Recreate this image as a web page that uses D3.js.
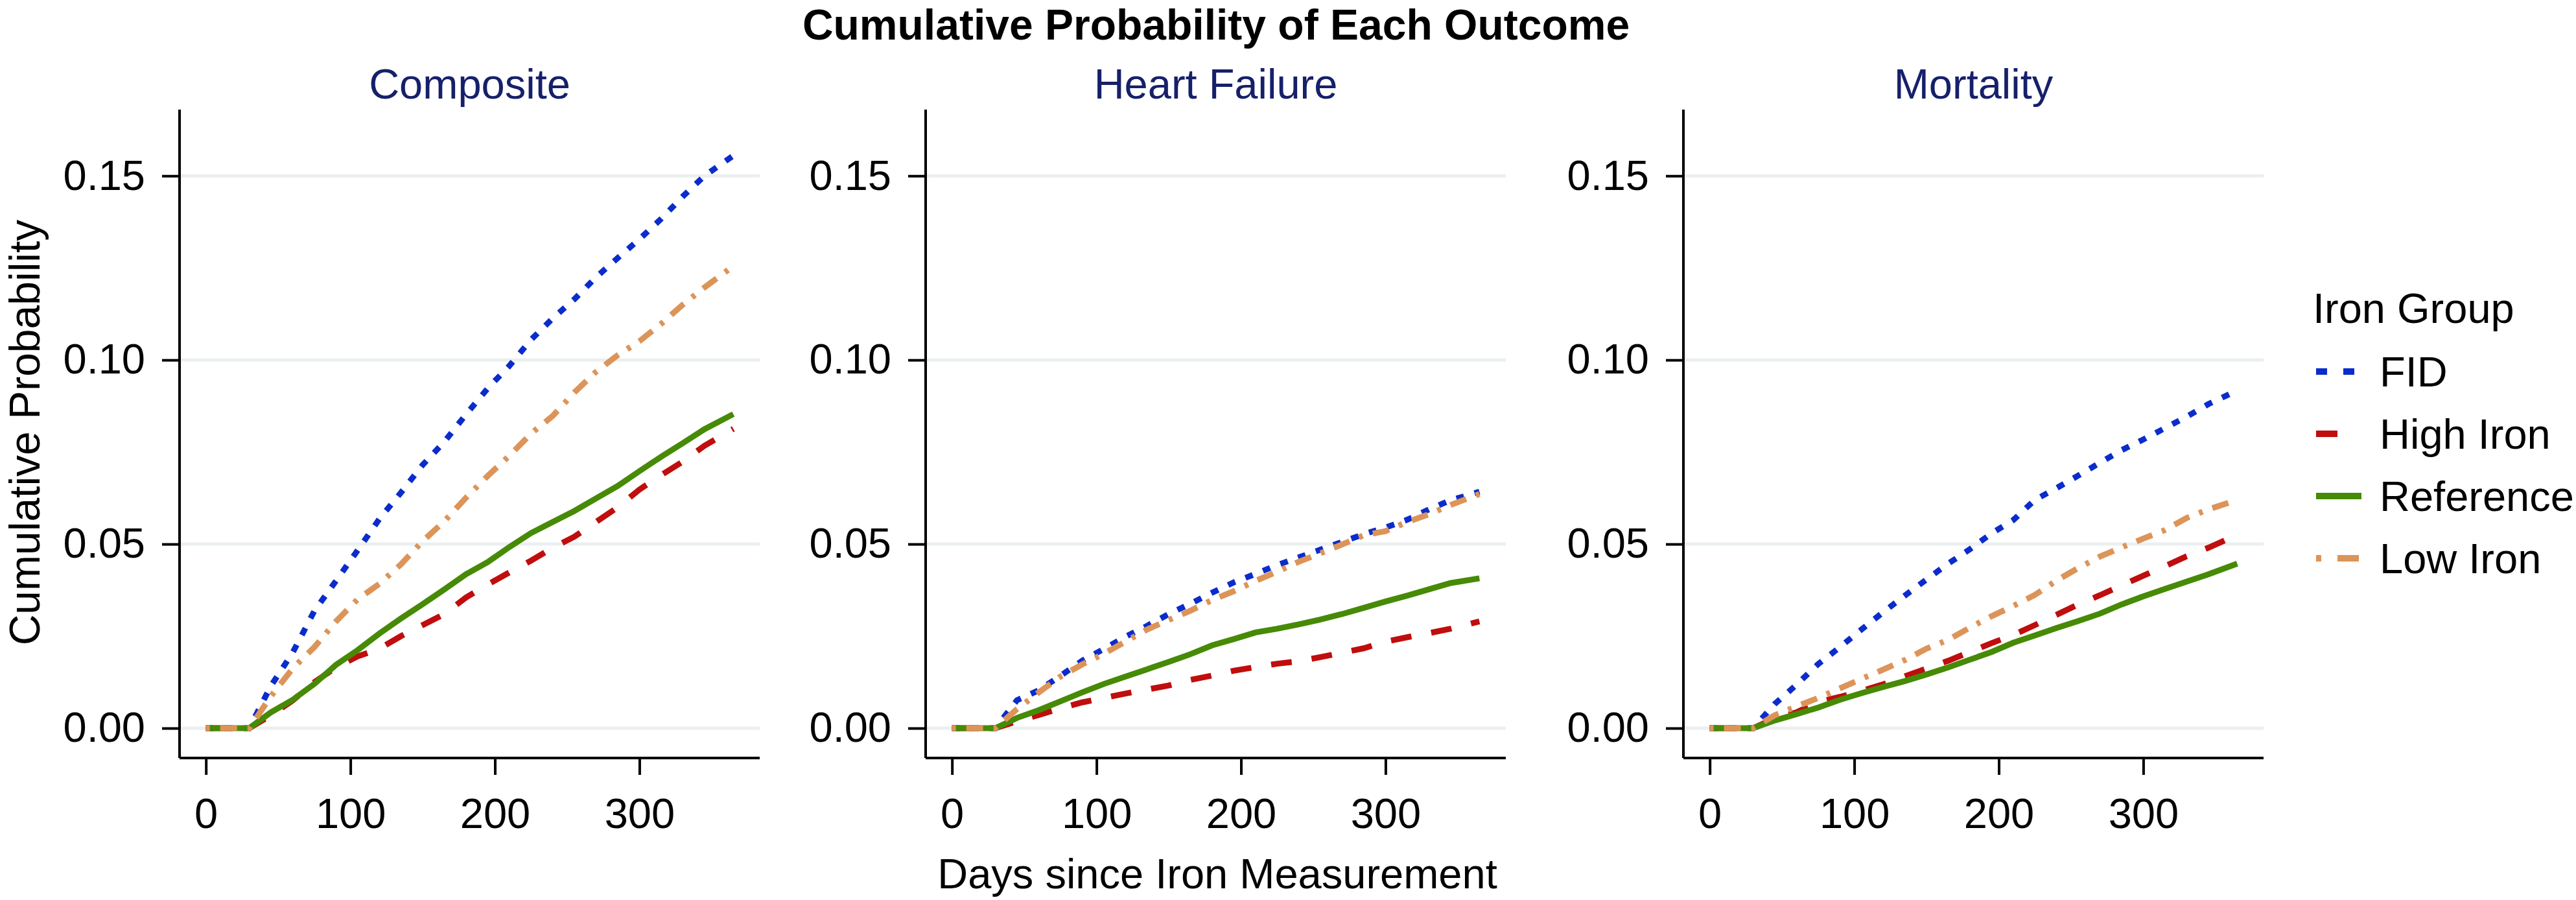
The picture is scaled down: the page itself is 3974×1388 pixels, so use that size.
<!DOCTYPE html>
<html>
<head>
<meta charset="utf-8">
<script src="https://cdn.jsdelivr.net/npm/d3@7"></script>
<style>
  body { margin: 0; background: #fff; }
  svg { display: block; font-family: "Liberation Sans", Arial, Helvetica, sans-serif; }
</style>
</head>
<body>
<div id="chart"></div>
<script>
// days since iron measurement, shared by every curve
const days = [0, 30, 45, 60, 75, 90, 105, 120, 135, 150, 165, 180, 195, 210, 225, 240, 255, 270, 285, 300, 315, 330, 345, 365];

const outcomes = ["Composite", "Heart Failure", "Mortality"];
const groups = ["FID", "High Iron", "Reference", "Low Iron"];
const yTicks = [0, 0.05, 0.10, 0.15];
const xTicks = [0, 100, 200, 300];

// Composite
const compositeFID = [0, 0, 0.0115, 0.0205, 0.0318, 0.040, 0.0483, 0.0568, 0.064, 0.0715, 0.0778, 0.0852, 0.0923, 0.0984, 0.1055, 0.1113, 0.1165, 0.1225, 0.1277, 0.1328, 0.1383, 0.1444, 0.150, 0.1555];
const compositeHigh = [0, 0, 0.0035, 0.0075, 0.0125, 0.0165, 0.0195, 0.0216, 0.025, 0.028, 0.031, 0.0355, 0.039, 0.0423, 0.0455, 0.049, 0.052, 0.056, 0.060, 0.0648, 0.0687, 0.0724, 0.0767, 0.0813];
const compositeRef = [0, 0, 0.0043, 0.0077, 0.012, 0.0172, 0.0212, 0.0257, 0.0298, 0.0337, 0.0377, 0.0418, 0.0451, 0.0492, 0.053, 0.056, 0.059, 0.0624, 0.0658, 0.0698, 0.0737, 0.0774, 0.0812, 0.0853];
const compositeLow = [0, 0, 0.0087, 0.0162, 0.022, 0.029, 0.035, 0.0392, 0.0445, 0.0508, 0.0562, 0.0626, 0.0685, 0.074, 0.080, 0.0848, 0.0912, 0.0968, 0.1013, 0.1051, 0.1098, 0.115, 0.1197, 0.1255];

// Heart Failure
const hfFID = [0, 0, 0.0076, 0.0103, 0.0142, 0.0183, 0.0215, 0.0248, 0.0278, 0.031, 0.0338, 0.0368, 0.0396, 0.0419, 0.0443, 0.0464, 0.0485, 0.0506, 0.0527, 0.0545, 0.0566, 0.0594, 0.0619, 0.0642];
const hfHigh = [0, 0, 0.0019, 0.0036, 0.0054, 0.007, 0.0082, 0.0094, 0.0105, 0.0116, 0.0131, 0.0143, 0.0156, 0.0166, 0.0175, 0.0182, 0.0193, 0.0205, 0.0217, 0.0235, 0.0247, 0.0258, 0.027, 0.029];
const hfRef = [0, 0, 0.0028, 0.0049, 0.0073, 0.0097, 0.012, 0.014, 0.016, 0.018, 0.0201, 0.0225, 0.0242, 0.026, 0.027, 0.0282, 0.0295, 0.031, 0.0327, 0.0344, 0.036, 0.0377, 0.0394, 0.0407];
const hfLow = [0, 0, 0.0052, 0.0097, 0.014, 0.0173, 0.0202, 0.0235, 0.0268, 0.0294, 0.0319, 0.0348, 0.0372, 0.040, 0.0425, 0.0452, 0.0475, 0.0499, 0.0524, 0.0535, 0.056, 0.0581, 0.0606, 0.0636];

// Mortality
const mortFID = [0, 0, 0.0066, 0.0118, 0.0174, 0.022, 0.0268, 0.0315, 0.036, 0.0404, 0.0447, 0.0486, 0.0529, 0.0565, 0.062, 0.0652, 0.0686, 0.0721, 0.0755, 0.0784, 0.0815, 0.0846, 0.088, 0.0917];
const mortHigh = [0, 0, 0.0027, 0.0043, 0.0071, 0.0085, 0.0101, 0.0119, 0.0141, 0.0162, 0.0183, 0.0207, 0.0231, 0.0253, 0.028, 0.0308, 0.0336, 0.0361, 0.0388, 0.0414, 0.044, 0.0467, 0.049, 0.0525];
const mortRef = [0, 0, 0.0021, 0.0038, 0.0056, 0.0077, 0.0095, 0.0112, 0.0128, 0.0146, 0.0165, 0.0186, 0.0207, 0.0232, 0.0252, 0.0272, 0.0291, 0.0311, 0.0336, 0.0358, 0.0378, 0.0398, 0.0418, 0.0447];
const mortLow = [0, 0, 0.0035, 0.0059, 0.0082, 0.0108, 0.0134, 0.0159, 0.0185, 0.0216, 0.024, 0.0273, 0.0304, 0.0332, 0.0362, 0.0401, 0.0435, 0.0466, 0.0491, 0.0515, 0.0538, 0.0571, 0.0594, 0.062];

const seriesByOutcome = {
    "Composite": [compositeFID, compositeHigh, compositeRef, compositeLow],
    "Heart Failure": [hfFID, hfHigh, hfRef, hfLow],
    "Mortality": [mortFID, mortHigh, mortRef, mortLow]
};

const colors = ["#0b2ccc", "#c00d0d", "#468a06", "#dc9459"];
const dashes = ["12,17", "32,31", null, "6,16,26,16"];
const keyDashes = ["17,25", "33,40", null, "8,25,33,25"];

const W = 3974, H = 1388;
const panelLeft = [277, 1428, 2597];
const panelW = 895, plotTop = 169, plotBottom = 1169;
const font = 65;

const svg = d3.select("#chart").append("svg")
    .attr("width", W)
    .attr("height", H);

const y = d3.scaleLinear().domain([-0.0081, 0.168]).range([plotBottom, plotTop]);

svg.append("text")
    .attr("x", 1876)
    .attr("y", 61)
    .attr("text-anchor", "middle")
    .attr("font-size", 66)
    .attr("font-weight", "bold")
    .text("Cumulative Probability of Each Outcome");

outcomes.forEach((name, i) => {
    const left = panelLeft[i];
    const x = d3.scaleLinear().domain([-18.25, 383.25]).range([left, left + panelW]);
    const g = svg.append("g");

    // gridlines
    g.selectAll(".grid")
        .data(yTicks)
        .enter().append("line")
        .attr("x1", left).attr("x2", left + panelW)
        .attr("y1", d => y(d)).attr("y2", d => y(d))
        .attr("stroke", "#ebefef")
        .attr("stroke-width", 5);

    // y axis
    const yAxis = g.append("g")
        .attr("transform", `translate(${left},0)`)
        .call(d3.axisLeft(y).tickValues(yTicks).tickFormat(d3.format(".2f")).tickSize(27).tickPadding(26));
    yAxis.select(".domain").attr("d", `M0,${plotTop}V${plotBottom}`).attr("stroke-width", 4);
    yAxis.selectAll(".tick line").attr("stroke-width", 4);
    yAxis.selectAll(".tick text").attr("font-size", font).attr("fill", "#000")
        .attr("font-family", "Liberation Sans, Arial, sans-serif");

    // x axis
    const xAxis = g.append("g")
        .attr("transform", `translate(0,${plotBottom})`)
        .call(d3.axisBottom(x).tickValues(xTicks).tickFormat(d3.format("d")).tickSize(26).tickPadding(36));
    xAxis.select(".domain").attr("d", `M${left},0H${left + panelW}`).attr("stroke-width", 4);
    xAxis.selectAll(".tick line").attr("stroke-width", 4);
    xAxis.selectAll(".tick text").attr("font-size", font).attr("fill", "#000")
        .attr("font-family", "Liberation Sans, Arial, sans-serif");

    // panel title
    g.append("text")
        .attr("x", left + panelW / 2)
        .attr("y", 152)
        .attr("text-anchor", "middle")
        .attr("font-size", font)
        .attr("fill", "#16206a")
        .text(name);

    const line = d3.line()
        .x((d, j) => x(days[j]))
        .y(d => y(d));

    seriesByOutcome[name].forEach((vals, k) => {
        g.append("path")
            .datum(vals)
            .attr("d", line)
            .attr("fill", "none")
            .attr("stroke", colors[k])
            .attr("stroke-width", 9)
            .attr("stroke-dasharray", dashes[k]);
    });
});

// axis titles
svg.append("text")
    .attr("transform", "translate(61,667) rotate(-90)")
    .attr("text-anchor", "middle")
    .attr("font-size", 66)
    .text("Cumulative Probability");

svg.append("text")
    .attr("x", 1878)
    .attr("y", 1370)
    .attr("text-anchor", "middle")
    .attr("font-size", font)
    .text("Days since Iron Measurement");

// legend
const legend = svg.append("g");
legend.append("text")
    .attr("x", 3568)
    .attr("y", 498)
    .attr("font-size", font)
    .text("Iron Group");

groups.forEach((grp, k) => {
    const cy = 573 + k * 96;
    legend.append("line")
        .attr("x1", 3573).attr("x2", 3643)
        .attr("y1", cy).attr("y2", cy)
        .attr("stroke", colors[k])
        .attr("stroke-width", 10)
        .attr("stroke-dasharray", keyDashes[k]);
    legend.append("text")
        .attr("x", 3671)
        .attr("y", cy)
        .attr("dominant-baseline", "central")
        .attr("font-size", font)
        .text(grp);
});
</script>
</body>
</html>
